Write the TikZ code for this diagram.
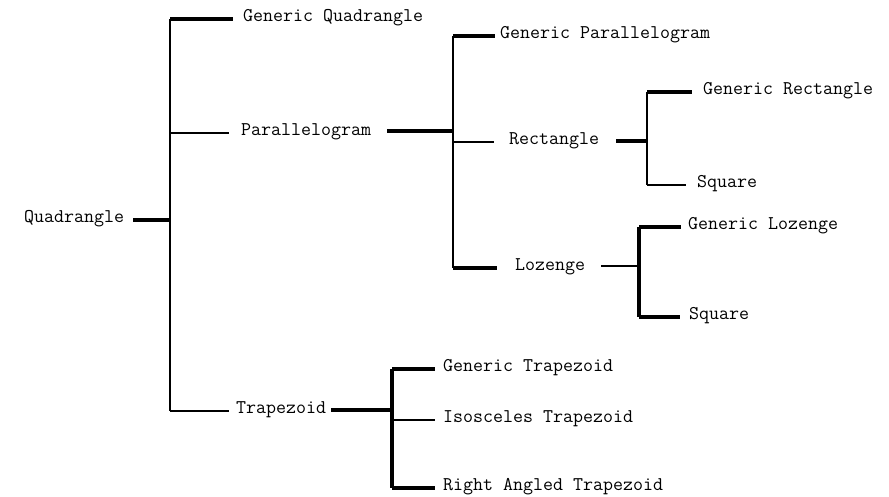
\documentclass[tikz,border=0pt]{standalone}
\begin{document}
\begin{tikzpicture}[x=1pt,y=-1pt,
  label/.style={anchor=west,inner sep=0pt,font=\ttfamily\fontsize{19.4}{21}\selectfont,
    text height=1.5ex,text depth=.35ex},
  heavy/.style={line width=3.6pt},
  light/.style={line width=1.9pt}]
\useasboundingbox (0,0) rectangle (889,497);

% level 0 and 1 labels
\node[label] (quad) at (24,220) {Quadrangle};
\node[label] (gq)   at (243,19) {Generic Quadrangle};
\node[label] (par)  at (241,133) {Parallelogram};
\node[label] (trap) at (236,411) {Trapezoid};

% parallelogram children
\node[label] (gp)   at (500,36) {Generic Parallelogram};
\node[label] (rect) at (509,142) {Rectangle};
\node[label] (loz)  at (515,268) {Lozenge};

% rectangle children
\node[label] (gr)   at (703,92) {Generic Rectangle};
\node[label] (sq1)  at (697,185) {Square};

% lozenge children
\node[label] (gl)   at (688,227) {Generic Lozenge};
\node[label] (sq2)  at (689,317) {Square};

% trapezoid children
\node[label] (gt)   at (443,369) {Generic Trapezoid};
\node[label] (it)   at (443,420) {Isosceles Trapezoid};
\node[label] (rt)   at (443,488) {Right Angled Trapezoid};

% bus points of the brackets
\coordinate (b0) at (170,220);
\coordinate (b1) at (453,131);
\coordinate (b2) at (647,141);
\coordinate (b3) at (639,266);
\coordinate (b4) at (392,410);

% Quadrangle bracket
\draw[light] (b0 |- gq) -- (b0 |- trap);
\draw[heavy] ([xshift=9]quad.east |- b0) -- (b0);
\draw[heavy] (b0 |- gq) -- ([xshift=-10]gq.west);
\draw[light] (b0 |- par) -- ([xshift=-12]par.west);
\draw[light] (b0 |- trap) -- ([xshift=-7]trap.west);

% Parallelogram bracket
\draw[heavy] ([xshift=16]par.east |- b1) -- (b1);
\draw[light] (b1 |- gp) -- (b1 |- loz);
\draw[heavy] (b1 |- gp) -- ([xshift=-5]gp.west);
\draw[light] (b1 |- rect) -- ([xshift=-15]rect.west);
\draw[heavy] (b1 |- loz) -- ([xshift=-18]loz.west);

% Rectangle bracket
\draw[heavy] ([xshift=17]rect.east |- b2) -- (b2);
\draw[light] (b2 |- gr) -- (b2 |- sq1);
\draw[heavy] (b2 |- gr) -- ([xshift=-11]gr.west);
\draw[light] (b2 |- sq1) -- ([xshift=-11]sq1.west);

% Lozenge bracket
\draw[light] ([xshift=16]loz.east |- b3) -- (b3);
\draw[heavy] (b3 |- gl) -- (b3 |- sq2);
\draw[heavy] (b3 |- gl) -- ([xshift=-7]gl.west);
\draw[heavy] (b3 |- sq2) -- ([xshift=-9]sq2.west);

% Trapezoid bracket
\draw[heavy] ([xshift=5]trap.east |- b4) -- (b4);
\draw[heavy] (b4 |- gt) -- (b4 |- rt);
\draw[heavy] (b4 |- gt) -- ([xshift=-8]gt.west);
\draw[light] (b4 |- it) -- ([xshift=-8]it.west);
\draw[heavy] (b4 |- rt) -- ([xshift=-8]rt.west);
\end{tikzpicture}
\end{document}
